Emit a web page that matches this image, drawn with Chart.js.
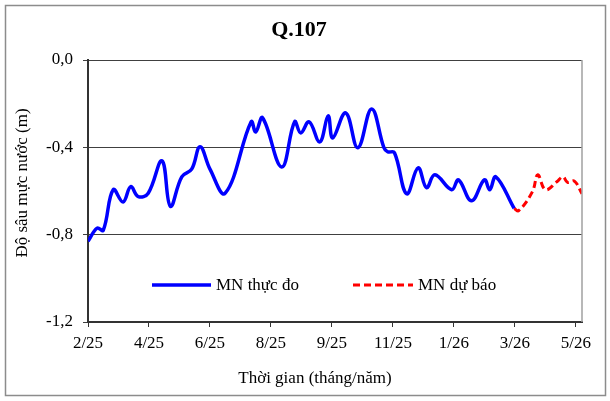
<!DOCTYPE html>
<html>
<head>
<meta charset="utf-8">
<script src="https://cdn.jsdelivr.net/npm/chart.js@4"></script>
<style>
  html, body { margin: 0; padding: 0; background: #fff; }
  #wrap { width: 610px; height: 401px; }
</style>
</head>
<body>
<div id="wrap"><canvas id="chart" width="610" height="401"></canvas></div>
<script>
// ---- data ----
const tickLabels = ["2/25", "4/25", "6/25", "8/25", "9/25", "11/25", "1/26", "3/26", "5/26"];
const unitsPerTick = 8;   // x position of each observation, counted in 1/8 of a tick interval
const xMax = 64.8;

// MN thực đo (measured)
const obsX = [0, 1.2, 2.0, 3.3, 4.6, 5.6, 6.6, 7.9, 9.7, 10.8, 12.3, 13.6, 14.7, 16.0, 18.0,
  21.4, 22.0, 22.9, 25.4, 27.1, 27.9, 29.0, 30.4, 31.5, 32.1, 33.8, 35.4, 37.2, 38.8, 39.3,
  40.2, 41.8, 43.3, 44.4, 45.5, 47.7, 48.6, 50.3, 52.0, 52.7, 53.5, 55.9];
const obsY = [-0.83, -0.77, -0.78, -0.594, -0.65, -0.58, -0.626, -0.61, -0.462, -0.67, -0.535, -0.50, -0.397, -0.50, -0.61,
  -0.283, -0.33, -0.265, -0.49, -0.283, -0.334, -0.283, -0.375, -0.256, -0.357, -0.242, -0.402, -0.224, -0.40, -0.42,
  -0.425, -0.613, -0.494, -0.585, -0.526, -0.594, -0.549, -0.645, -0.549, -0.594, -0.535, -0.68];

// MN dự báo (forecast)
const fcstX = [55.9, 56.5, 58.3, 59.0, 60.0, 61.5, 62.3, 62.9, 63.8, 64.8];
const fcstY = [-0.68, -0.69, -0.603, -0.526, -0.594, -0.558, -0.535, -0.56, -0.555, -0.613];

const FONT = "'Liberation Serif', 'Times New Roman', serif";

const toPoints = (xs, ys) => xs.map((x, i) => ({ x: x, y: ys[i] }));

// titles, legend, borders drawn by hand so they sit where the original has them
const decor = {
  id: "decor",
  beforeDraw(chart) {
    const ctx = chart.ctx;
    ctx.save();
    ctx.fillStyle = "#fff";
    ctx.fillRect(0, 0, chart.width, chart.height);
    ctx.restore();
  },
  afterDraw(chart) {
    const ctx = chart.ctx;
    const a = chart.chartArea;
    ctx.save();

    // outer frame
    ctx.strokeStyle = "#8c8c8c";
    ctx.lineWidth = 1.5;
    ctx.strokeRect(5.5, 5.5, 600, 390);

    // right plot border
    ctx.strokeStyle = "#a0a0a0";
    ctx.lineWidth = 1.5;
    ctx.beginPath();
    ctx.moveTo(a.right, a.top);
    ctx.lineTo(a.right, a.bottom);
    ctx.stroke();

    // chart title
    ctx.fillStyle = "#000";
    ctx.font = "bold 22px " + FONT;
    ctx.textAlign = "center";
    ctx.textBaseline = "middle";
    ctx.fillText("Q.107", 299, 30);

    // axis titles
    ctx.font = "17px " + FONT;
    ctx.fillText("Thời gian (tháng/năm)", 315, 379);
    ctx.save();
    ctx.translate(23, 183);
    ctx.rotate(-Math.PI / 2);
    ctx.fillText("Độ sâu mực nước (m)", 0, 0);
    ctx.restore();

    // legend inside plot
    const items = [
      { ds: chart.data.datasets[0], x0: 152, x1: 211 },
      { ds: chart.data.datasets[1], x0: 353, x1: 413 }
    ];
    const ly = 285;
    items.forEach(it => {
      ctx.strokeStyle = it.ds.borderColor;
      ctx.lineWidth = it.ds.borderWidth;
      ctx.setLineDash(it.ds.borderDash || []);
      ctx.beginPath();
      ctx.moveTo(it.x0, ly);
      ctx.lineTo(it.x1, ly);
      ctx.stroke();
      ctx.setLineDash([]);
      ctx.fillStyle = "#000";
      ctx.textAlign = "left";
      ctx.fillText(it.ds.label, it.x1 + 5, ly + 1);
    });

    ctx.restore();
  }
};

new Chart(document.getElementById("chart").getContext("2d"), {
  type: "line",
  data: {
    datasets: [
      {
        label: "MN thực đo",
        data: toPoints(obsX, obsY),
        borderColor: "#0000ff",
        borderWidth: 3.5,
        pointRadius: 0,
        tension: 0.4,
        fill: false
      },
      {
        label: "MN dự báo",
        data: toPoints(fcstX, fcstY),
        borderColor: "#ff0000",
        borderWidth: 3,
        borderDash: [7, 4],
        pointRadius: 0,
        tension: 0.4,
        fill: false
      }
    ]
  },
  options: {
    responsive: false,
    animation: false,
    layout: { padding: { top: 60, right: 28, left: 0, bottom: 0 } },
    plugins: {
      legend: { display: false },
      title: { display: false },
      tooltip: { enabled: false }
    },
    scales: {
      x: {
        type: "linear",
        min: 0,
        max: xMax,
        afterFit: s => { s.height = 79; },
        afterBuildTicks: s => {
          s.ticks = tickLabels.map((_, i) => ({ value: i * unitsPerTick }));
        },
        ticks: {
          autoSkip: false,
          maxRotation: 0,
          padding: 6,
          color: "#000",
          font: { family: FONT, size: 17 },
          callback: v => tickLabels[Math.round(v / unitsPerTick)]
        },
        grid: { drawOnChartArea: false, drawTicks: true, tickLength: 5, color: "#333" },
        border: { color: "#333", width: 2 }
      },
      y: {
        min: -1.2,
        max: 0,
        afterFit: s => { s.width = 88; },
        ticks: {
          stepSize: 0.4,
          padding: 10,
          color: "#000",
          font: { family: FONT, size: 17 },
          callback: v => v.toFixed(1).replace(".", ",")
        },
        grid: { color: "#404040", lineWidth: 1, tickLength: 5 },
        border: { color: "#333", width: 2 }
      }
    }
  },
  plugins: [decor]
});
</script>
</body>
</html>
